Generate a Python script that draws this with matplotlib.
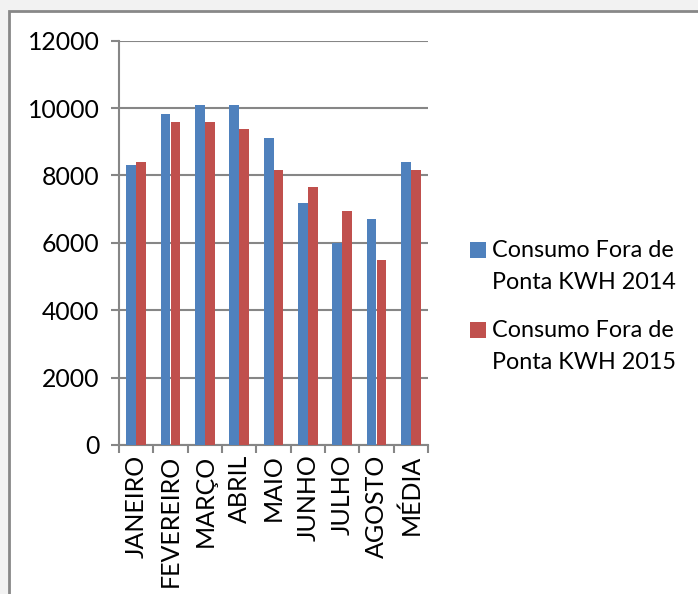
import matplotlib
matplotlib.use('Agg')
import matplotlib.pyplot as plt
import matplotlib.patches as ptc
import numpy as np

meses = ['JANEIRO', 'FEVEREIRO', 'MARÇO', 'ABRIL', 'MAIO', 'JUNHO', 'JULHO', 'AGOSTO', 'MÉDIA']
kwh_2014 = [8300, 9830, 10080, 10080, 9110, 7180, 5990, 6700, 8400]
kwh_2015 = [8390, 9600, 9600, 9370, 8150, 7670, 6940, 5500, 8150]
rotulos = ['Consumo Fora de\nPonta KWH 2014', 'Consumo Fora de\nPonta KWH 2015']
cores = ['#4F81BD', '#C0504D']

W, H = 698, 594
plt.rcParams['font.family'] = ['Lato', 'DejaVu Sans']
fig = plt.figure(figsize=(W / 100, H / 100), dpi=100, facecolor='#f2f2f2')

# white chart area with grey frame (runs off the right and bottom)
fig.patches.append(ptc.Rectangle((9 / W, -0.1), 1.2, 1.1 - 11 / H, transform=fig.transFigure,
                                 facecolor='white', edgecolor='#888888', linewidth=2, zorder=-5))

ax = fig.add_axes([119 / W, 1 - 445 / H, (428 - 119) / W, (445 - 40.7) / H])
ax.set_facecolor('none')
x = np.arange(len(meses))
bw = 0.285
ax.bar(x - bw / 2, kwh_2014, bw, color=cores[0], zorder=3)
ax.bar(x + bw / 2, kwh_2015, bw, color=cores[1], zorder=3)

ax.set_xlim(-0.5, len(meses) - 0.5)
ax.set_ylim(0, 12000)
ax.set_yticks(range(0, 12001, 2000))
ax.yaxis.grid(True, color='#868686', linewidth=1.5, zorder=0)
ax.set_xticks(np.arange(len(meses) + 1) - 0.5, minor=False)
ax.set_xticklabels([])
ax.set_xticks(x, minor=True)
ax.set_xticklabels(meses, minor=True, rotation=90, fontsize=18)
ax.tick_params(axis='x', which='minor', length=0, pad=7)
ax.tick_params(axis='x', which='major', length=6, width=1.5, color='#868686')
ax.tick_params(axis='y', length=6, width=1.5, color='#868686', labelsize=17.8, pad=8)
for s in ['top', 'right']:
    ax.spines[s].set_visible(False)
for s in ['left', 'bottom']:
    ax.spines[s].set_color('#868686')
    ax.spines[s].set_linewidth(1.5)

# legend: square next to first line of each two-line label
for i, (rot, cor) in enumerate(zip(rotulos, cores)):
    y0 = 257 + 80 * i
    fig.patches.append(ptc.Rectangle((470 / W, 1 - (y0 + 0.5) / H), 16 / W, 16 / H,
                                     transform=fig.transFigure, facecolor=cor, edgecolor='none'))
    for j, linha in enumerate(rot.split('\n')):
        fig.text(492 / W, 1 - (y0 + 32 * j) / H, linha, fontsize=16.8, va='baseline', ha='left')

fig.savefig('out.png', dpi=100, facecolor=fig.get_facecolor())
